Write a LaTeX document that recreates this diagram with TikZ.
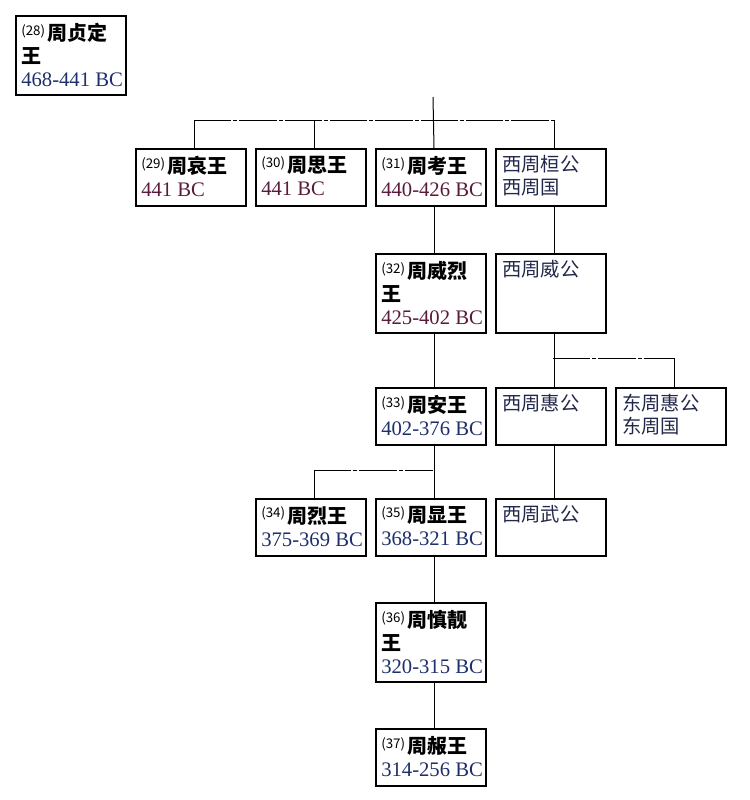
\documentclass[tikz,border=0pt]{standalone}
\usepackage{fontspec}
\newfontfamily\cjk{Noto Sans CJK SC}
\newfontfamily\dtf{Liberation Serif}
\definecolor{datered}{HTML}{5A1A3A}
\definecolor{datenavy}{HTML}{1E2F6A}
\definecolor{namenavy}{HTML}{22284A}
\tikzset{
  box/.style={draw, line width=1.5pt, inner sep=0pt, anchor=north west, minimum width=82.5pt, minimum height=42.75pt},
  tall/.style={minimum height=59.25pt},
  txt/.style={anchor=north west, inner sep=0pt, align=left, font=\fontsize{15}{17.25}\selectfont},
  dl/.style={line width=0.75pt, dash pattern=on 28pt off 1.5pt on 3pt off 1.5pt},
  ln/.style={line width=0.75pt},
}
\newcommand\nm[2]{\raisebox{4pt}{\cjk\fontsize{10}{10}\selectfont(#1)}\hspace{2pt}{\cjk\bfseries #2}}
\newcommand\bw[1]{{\cjk\bfseries #1}}
\newcommand\dt[2]{{\dtf\fontsize{15.5}{17.25}\selectfont\color{#1}#2}}
\newcommand\zh[1]{{\cjk\fontsize{14.5}{17.25}\selectfont\color{namenavy}#1}}
\begin{document}
\begin{tikzpicture}[x=0.75pt,y=-0.75pt]
\useasboundingbox (0,0) rectangle (750,800);
% boxes
\node[box,tall] (b28) at (15,15) {};
\node[box] (b29) at (135,148) {};
\node[box] (b30) at (255,148) {};
\node[box] (b31) at (375,148) {};
\node[box] (bwh) at (495,148) {};
\node[box,tall] (b32) at (375,253) {};
\node[box,tall] (bww) at (495,253) {};
\node[box] (b33) at (375,387) {};
\node[box] (bwhui) at (495,387) {};
\node[box] (behui) at (615,387) {};
\node[box] (b34) at (255,498) {};
\node[box] (b35) at (375,498) {};
\node[box] (bwwu) at (495,498) {};
\node[box,tall] (b36) at (375,602) {};
\node[box] (b37) at (375,728) {};
% texts
\node[txt] (t28) at ([shift={(6,8)}]b28.north west) {\nm{28}{周贞定}\\\bw{王}\\\dt{datenavy}{468-441 BC}};
\node[txt] (t29) at ([shift={(6,8)}]b29.north west) {\nm{29}{周哀王}\\\dt{datered}{441 BC}};
\node[txt] (t30) at ([shift={(6,8)}]b30.north west) {\nm{30}{周思王}\\\dt{datered}{441 BC}};
\node[txt] (t31) at ([shift={(6,8)}]b31.north west) {\nm{31}{周考王}\\\dt{datered}{440-426 BC}};
\node[txt] (twh) at ([shift={(7,7)}]bwh.north west) {\zh{西周桓公}\\\zh{西周国}};
\node[txt] (t32) at ([shift={(6,8)}]b32.north west) {\nm{32}{周威烈}\\\bw{王}\\\dt{datered}{425-402 BC}};
\node[txt] (tww) at ([shift={(7,7)}]bww.north west) {\zh{西周威公}};
\node[txt] (t33) at ([shift={(6,8)}]b33.north west) {\nm{33}{周安王}\\\dt{datenavy}{402-376 BC}};
\node[txt] (twhui) at ([shift={(7,7)}]bwhui.north west) {\zh{西周惠公}};
\node[txt] (tehui) at ([shift={(7,7)}]behui.north west) {\zh{东周惠公}\\\zh{东周国}};
\node[txt] (t34) at ([shift={(6,8)}]b34.north west) {\nm{34}{周烈王}\\\dt{datenavy}{375-369 BC}};
\node[txt] (t35) at ([shift={(6,8)}]b35.north west) {\nm{35}{周显王}\\\dt{datenavy}{368-321 BC}};
\node[txt] (twwu) at ([shift={(7,7)}]bwwu.north west) {\zh{西周武公}};
\node[txt] (t36) at ([shift={(6,8)}]b36.north west) {\nm{36}{周慎靓}\\\bw{王}\\\dt{datenavy}{320-315 BC}};
\node[txt] (t37) at ([shift={(6,8)}]b37.north west) {\nm{37}{周赧王}\\\dt{datenavy}{314-256 BC}};
% connectors
\coordinate (top) at (433,97);
\coordinate (h1) at (433,120);
\coordinate (h2) at (553,358);
\coordinate (h3) at (433,470);
\draw[ln] (top) -- ([xshift=2.25pt]b31.north);
\draw[dl] ([xshift=2.25pt]b29.north |- h1) -- ([xshift=2.25pt]bwh.north |- h1);
\draw[ln] ([xshift=2.25pt]b29.north |- h1) -- ([xshift=2.25pt]b29.north);
\draw[ln] ([xshift=2.25pt]b30.north |- h1) -- ([xshift=2.25pt]b30.north);
\draw[ln] ([xshift=2.25pt]bwh.north |- h1) -- ([xshift=2.25pt]bwh.north);
\draw[ln] ([xshift=2.25pt]b31.south) -- ([xshift=2.25pt]b32.north);
\draw[ln] ([xshift=2.25pt]bwh.south) -- ([xshift=2.25pt]bww.north);
\draw[ln] ([xshift=2.25pt]b32.south) -- ([xshift=2.25pt]b33.north);
\draw[ln] ([xshift=2.25pt]bww.south) -- ([xshift=2.25pt]bwhui.north);
\draw[dl] (h2) -- ([xshift=2.25pt]behui.north |- h2);
\draw[ln] ([xshift=2.25pt]behui.north |- h2) -- ([xshift=2.25pt]behui.north);
\draw[ln] ([xshift=2.25pt]b33.south) -- ([xshift=2.25pt]b35.north);
\draw[dl] ([xshift=2.25pt]b34.north |- h3) -- (h3);
\draw[ln] ([xshift=2.25pt]b34.north |- h3) -- ([xshift=2.25pt]b34.north);
\draw[ln] ([xshift=2.25pt]bwhui.south) -- ([xshift=2.25pt]bwwu.north);
\draw[ln] ([xshift=2.25pt]b35.south) -- ([xshift=2.25pt]b36.north);
\draw[ln] ([xshift=2.25pt]b36.south) -- ([xshift=2.25pt]b37.north);
\end{tikzpicture}
\end{document}
